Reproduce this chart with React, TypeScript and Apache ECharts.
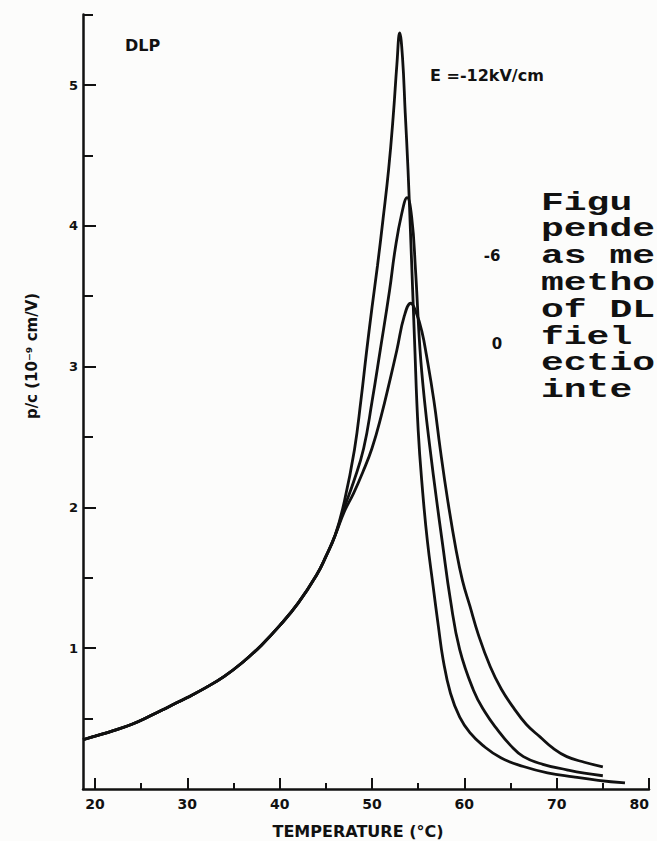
import React, { useEffect, useRef } from "react";
import * as echarts from "echarts";

// ---- data ----
const COMMON_T = [18.7, 20, 22, 24, 26, 28, 30, 32, 34, 36, 38, 40, 42, 44, 45, 46];
const COMMON_V = [0.35, 0.375, 0.415, 0.46, 0.52, 0.585, 0.65, 0.72, 0.8, 0.9, 1.02, 1.16, 1.32, 1.52, 1.65, 1.8];

const E12_T = [47, 48.1, 48.8, 49.4, 50.0, 50.6, 51.2, 51.8, 52.3, 52.7, 53.0, 53.3, 53.6, 53.9, 54.2, 54.6, 55.0, 55.5, 56.0, 56.6, 57.2, 57.7, 58.5, 59.5, 60.6, 62, 64, 66.4, 69, 71.8, 74.5, 77.4];
const E12_V = [2.04, 2.41, 2.76, 3.1, 3.42, 3.72, 4.05, 4.4, 4.78, 5.15, 5.37, 5.2, 4.8, 4.4, 3.9, 3.2, 2.55, 2.1, 1.76, 1.45, 1.15, 0.92, 0.68, 0.51, 0.4, 0.31, 0.22, 0.16, 0.115, 0.086, 0.062, 0.043];

const E6_T = [47, 48, 49.1, 50.0, 50.9, 51.9, 52.5, 53.2, 53.8, 54.3, 54.7, 55.2, 55.7, 56.3, 57.0, 57.6, 58.5, 59.5, 61.0, 62.2, 63.6, 65.0, 66.4, 68.5, 71.1, 73.0, 75.0];
const E6_V = [2.0, 2.18, 2.42, 2.75, 3.12, 3.54, 3.83, 4.08, 4.2, 4.06, 3.7, 3.12, 2.75, 2.41, 2.05, 1.76, 1.34, 0.99, 0.7, 0.55, 0.42, 0.31, 0.23, 0.175, 0.136, 0.112, 0.094];

const E0_T = [47, 48, 49, 50, 51, 52, 52.7, 53.5, 54.2, 54.8, 55.4, 55.9, 56.7, 57.4, 58.2, 59.1, 59.8, 60.6, 61.5, 62.8, 64.0, 65.3, 66.7, 68.2, 69.6, 71.1, 73.0, 75.0];
const E0_V = [1.97, 2.1, 2.25, 2.42, 2.65, 2.92, 3.12, 3.36, 3.45, 3.38, 3.25, 3.08, 2.76, 2.41, 2.05, 1.7, 1.48, 1.3, 1.1, 0.87, 0.71, 0.58, 0.46, 0.37, 0.29, 0.23, 0.19, 0.157];

const X_MAJOR = [20, 30, 40, 50, 60, 70, 80];
const X_MINOR = [25, 35, 45, 55, 65, 75];
const Y_MAJOR = [1, 2, 3, 4, 5];
const Y_MINOR = [0.5, 1.5, 2.5, 3.5, 4.5, 5.5];

const CURVE_LABELS = ["E =-12kV/cm", "-6", "0"];
const CAPTION = ["Figu", "pende", "as me", "metho", "of DL", "fiel", "ectio", "inte"];

const INK = "#111";
const SANS = '"DejaVu Sans", sans-serif';

function zip(ts: number[], vs: number[]) {
  return ts.map((t, i) => [t, vs[i]]);
}

function curve(ts: number[], vs: number[]) {
  return {
    type: "line",
    xAxisIndex: 0,
    yAxisIndex: 0,
    data: zip(COMMON_T, COMMON_V).concat(zip(ts, vs)),
    showSymbol: false,
    symbol: "none",
    smooth: 0.45,
    lineStyle: { color: INK, width: 2.8 },
    silent: true,
  };
}

function txt(x: number, y: number, text: string, font: string, align = "left", rotation = 0, scaleX = 1) {
  return {
    type: "text",
    x,
    y,
    rotation,
    scaleX,
    silent: true,
    style: {
      text,
      font,
      fill: INK,
      textAlign: align,
      align,
      textVerticalAlign: "middle",
      verticalAlign: "middle",
    },
  };
}

export default function App() {
  const ref = useRef<HTMLDivElement>(null);
  useEffect(() => {
    const chart = echarts.init(ref.current as HTMLDivElement, null, { renderer: "svg", width: 657, height: 841 });
    const axisCommon = {
      type: "value",
      splitLine: { show: false },
    };
    const option: any = {
      animation: false,
      backgroundColor: "#fcfcfb",
      grid: { left: 83, right: 8, top: 14.6, bottom: 52, containLabel: false, outerBoundsMode: "none" },
      xAxis: [
        {
          ...axisCommon,
          min: 18.7,
          max: 80,
          position: "bottom",
          axisLine: { show: true, onZero: false, lineStyle: { color: INK, width: 2.5 } },
          axisTick: { show: true, inside: true, length: 11, customValues: X_MAJOR, lineStyle: { color: INK, width: 2 } },
          axisLabel: {
            show: true,
            customValues: X_MAJOR,
            color: INK,
            fontWeight: "bold",
            fontSize: 14,
            fontFamily: SANS,
            margin: 8,
            alignMaxLabel: "right",
          },
        },
        {
          ...axisCommon,
          min: 18.7,
          max: 80,
          position: "bottom",
          axisLine: { show: false, onZero: false },
          axisTick: { show: true, inside: true, length: 6, customValues: X_MINOR, lineStyle: { color: INK, width: 2 } },
          axisLabel: { show: false },
        },
      ],
      yAxis: [
        {
          ...axisCommon,
          min: 0,
          max: 5.5,
          position: "left",
          axisLine: { show: true, onZero: false, lineStyle: { color: INK, width: 2.5 } },
          axisTick: { show: true, inside: true, length: 13, customValues: Y_MAJOR, lineStyle: { color: INK, width: 2 } },
          axisLabel: { show: true, customValues: Y_MAJOR, color: INK, fontWeight: "bold", fontSize: 13, fontFamily: SANS, margin: 5 },
        },
        {
          ...axisCommon,
          min: 0,
          max: 5.5,
          position: "left",
          axisLine: { show: false, onZero: false },
          axisTick: { show: true, inside: true, length: 10, customValues: Y_MINOR, lineStyle: { color: INK, width: 2 } },
          axisLabel: { show: false },
        },
      ],
      series: [curve(E12_T, E12_V), curve(E6_T, E6_V), curve(E0_T, E0_V)],
      graphic: [
        txt(125, 45, "DLP", `bold 16px ${SANS}`),
        txt(430, 75, CURVE_LABELS[0], `bold 16px ${SANS}`),
        txt(492, 256, CURVE_LABELS[1], `bold 15px ${SANS}`, "center"),
        txt(497, 344, CURVE_LABELS[2], `bold 15px ${SANS}`, "center"),
        txt(32, 356, "p/c (10⁻⁹ cm/V)", `bold 15px ${SANS}`, "center", Math.PI / 2),
        txt(358, 831, "TEMPERATURE (°C)", `bold 16px ${SANS}`, "center"),
        ...CAPTION.map((line, i) =>
          txt(541, 203 + 26.8 * i, line, `bold 25px "Liberation Mono", monospace`, "left", 0, 1.52)
        ),
      ],
    };
    chart.setOption(option);
    return () => chart.dispose();
  }, []);
  return <div ref={ref} style={{ position: "absolute", left: 0, top: 0, width: 657, height: 841 }} />;
}
